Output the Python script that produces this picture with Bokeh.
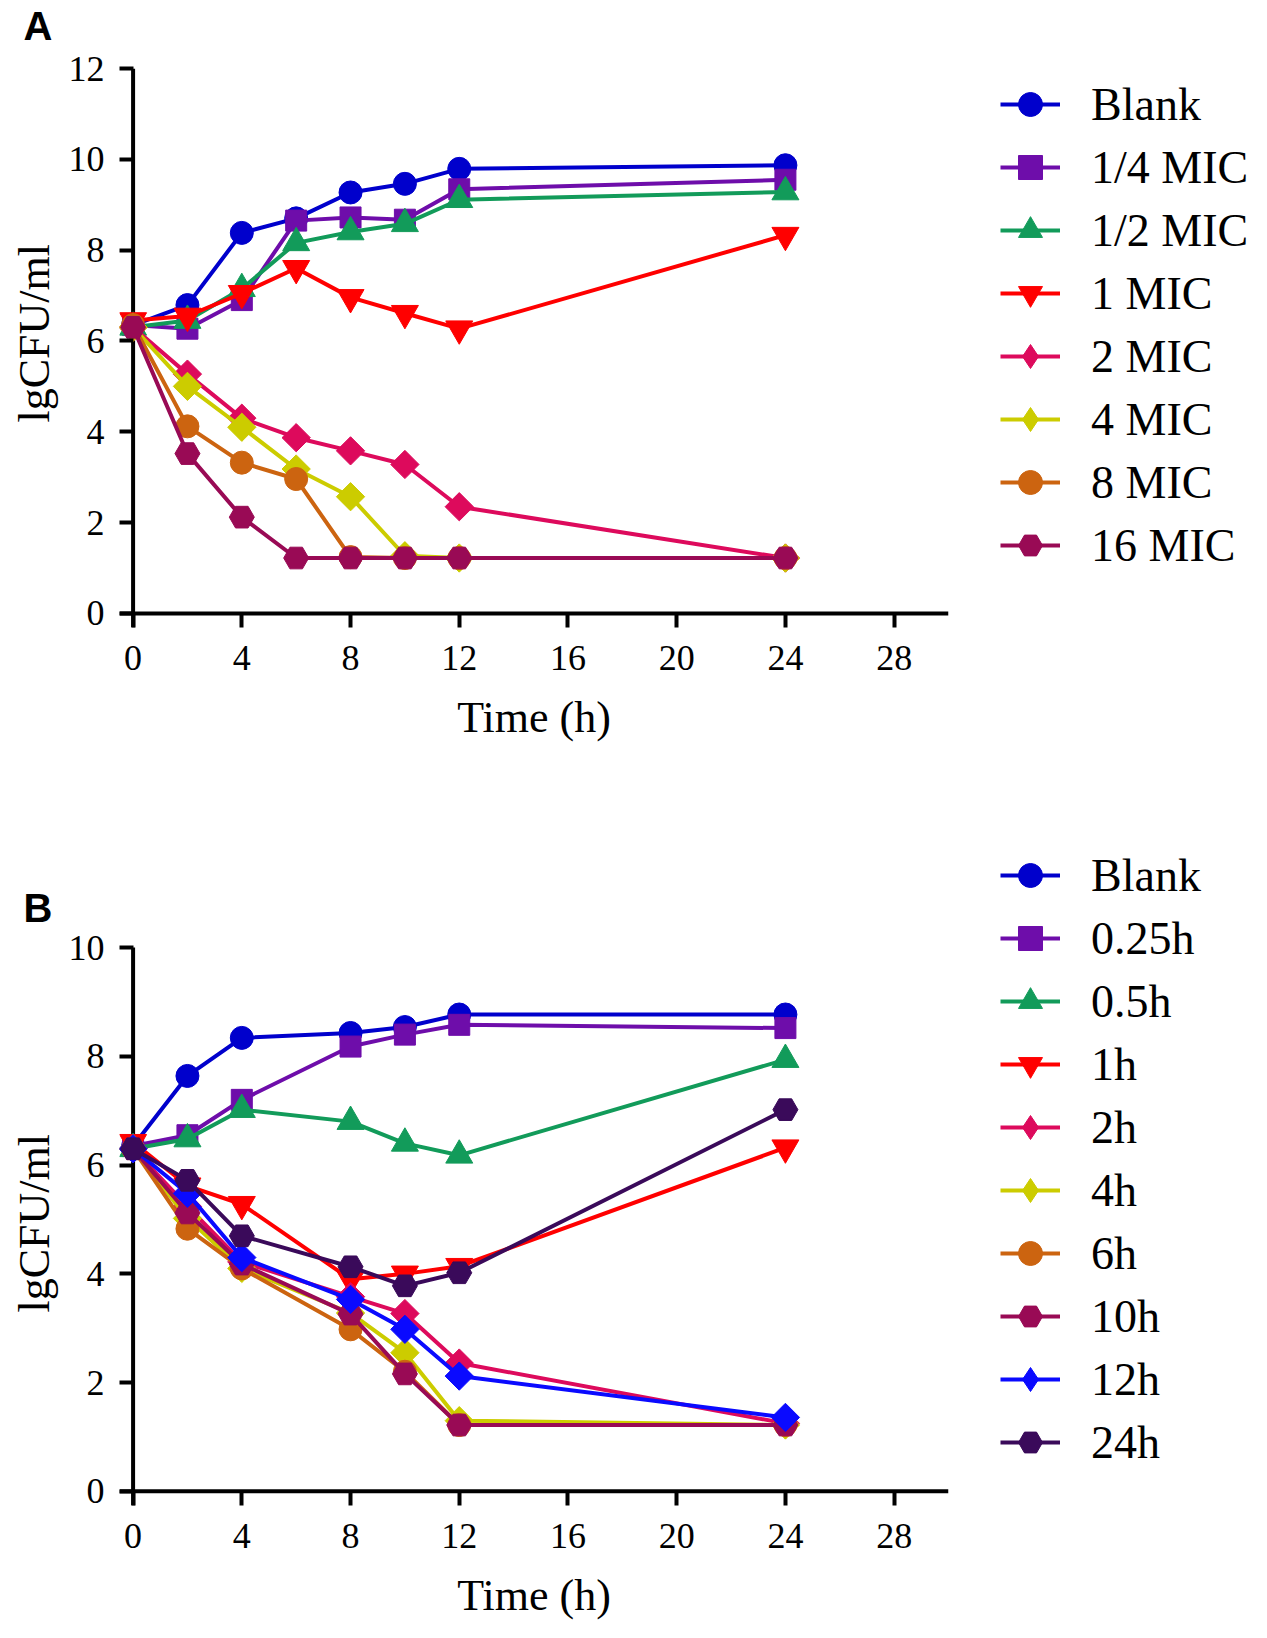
import math
from bokeh.plotting import figure
from bokeh.models import Legend, LegendItem, FixedTicker, Range1d, Label, Title
from bokeh.layouts import column, row
from bokeh.embed import file_html
from bokeh.resources import INLINE

# ---------------- data: panel A ----------------
time_a = [0, 2, 4, 6, 8, 10, 12, 24]
labels_a = ["Blank", "1/4 MIC", "1/2 MIC", "1 MIC", "2 MIC", "4 MIC", "8 MIC", "16 MIC"]
a_blank = [6.35, 6.79, 8.38, 8.70, 9.27, 9.46, 9.79, 9.87]
a_mic_quarter = [6.35, 6.27, 6.90, 8.65, 8.72, 8.67, 9.34, 9.55]
a_mic_half = [6.30, 6.45, 7.15, 8.16, 8.40, 8.58, 9.11, 9.28]
a_mic_1 = [6.45, 6.55, 7.05, 7.60, 6.96, 6.61, 6.27, 8.33]
a_mic_2 = [6.30, 5.27, 4.30, 3.87, 3.58, 3.28, 2.35, 1.22]
a_mic_4 = [6.30, 5.00, 4.10, 3.18, 2.57, 1.27, 1.22, 1.22]
a_mic_8 = [6.35, 4.12, 3.32, 2.96, 1.24, 1.22, 1.22, 1.22]
a_mic_16 = [6.30, 3.52, 2.12, 1.22, 1.22, 1.22, 1.22, 1.22]

# ---------------- data: panel B ----------------
time_b = [0, 2, 4, 8, 10, 12, 24]
labels_b = ["Blank", "0.25h", "0.5h", "1h", "2h", "4h", "6h", "10h", "12h", "24h"]
b_blank = [6.35, 7.64, 8.34, 8.43, 8.54, 8.77, 8.77]
b_h025 = [6.35, 6.55, 7.20, 8.18, 8.40, 8.58, 8.52]
b_h05 = [6.30, 6.48, 7.02, 6.80, 6.40, 6.18, 7.94]
b_h1 = [6.42, 5.62, 5.28, 3.90, 4.00, 4.14, 6.32]
b_h2 = [6.30, 5.24, 4.22, 3.58, 3.27, 2.36, 1.25]
b_h4 = [6.30, 5.02, 4.10, 3.28, 2.55, 1.30, 1.22]
b_h6 = [6.30, 4.83, 4.10, 2.98, 2.20, 1.22, 1.22]
b_h10 = [6.30, 5.12, 4.18, 3.26, 2.16, 1.22, 1.22]
b_h12 = [6.30, 5.48, 4.30, 3.53, 2.98, 2.12, 1.36]
b_h24 = [6.30, 5.72, 4.70, 4.13, 3.78, 4.02, 7.02]

# ---------------- styles ----------------
C_BLUE = "#0000CC"
C_PURPLE = "#6E0DAA"
C_GREEN = "#129B5A"
C_RED = "#FF0000"
C_PINK = "#DD0A5C"
C_YELLOW = "#CCCC00"
C_ORANGE = "#CC6410"
C_MAROON = "#990A55"
C_BRIGHTBLUE = "#0A0AFF"
C_DARKPURPLE = "#3A0A5A"

# (marker in plot, size, angle, marker in legend key)
STY_CIRCLE = ("circle", 23, 0.0, "circle")
STY_SQUARE = ("square", 21, 0.0, "square")
STY_TRI = ("triangle", 27, 0.0, "triangle")
STY_ITRI = ("inverted_triangle", 27, 0.0, "inverted_triangle")
STY_DIAM = ("square", 20, math.pi / 4, "diamond")
STY_HEX = ("hex", 25, 0.0, "hex")

series_a = [
    (labels_a[0], a_blank, C_BLUE, STY_CIRCLE),
    (labels_a[1], a_mic_quarter, C_PURPLE, STY_SQUARE),
    (labels_a[2], a_mic_half, C_GREEN, STY_TRI),
    (labels_a[3], a_mic_1, C_RED, STY_ITRI),
    (labels_a[4], a_mic_2, C_PINK, STY_DIAM),
    (labels_a[5], a_mic_4, C_YELLOW, STY_DIAM),
    (labels_a[6], a_mic_8, C_ORANGE, STY_CIRCLE),
    (labels_a[7], a_mic_16, C_MAROON, STY_HEX),
]
series_b = [
    (labels_b[0], b_blank, C_BLUE, STY_CIRCLE),
    (labels_b[1], b_h025, C_PURPLE, STY_SQUARE),
    (labels_b[2], b_h05, C_GREEN, STY_TRI),
    (labels_b[3], b_h1, C_RED, STY_ITRI),
    (labels_b[4], b_h2, C_PINK, STY_DIAM),
    (labels_b[5], b_h4, C_YELLOW, STY_DIAM),
    (labels_b[6], b_h6, C_ORANGE, STY_CIRCLE),
    (labels_b[7], b_h10, C_MAROON, STY_HEX),
    (labels_b[8], b_h12, C_BRIGHTBLUE, STY_DIAM),
    (labels_b[9], b_h24, C_DARKPURPLE, STY_HEX),
]

SERIF = "Liberation Serif"
MAIN_W = 952
LEG_W = 298
LEFT = 118
RIGHT = 4
X_START, X_END = -0.5, 30
X_TICKS = list(range(0, 29, 4))


def make_main(times, series, y_axis_end, y_start, y_view_end, height, top, bottom,
              letter, letter_y, ylabel_offset):
    p = figure(width=MAIN_W, height=height, output_backend="svg", toolbar_location=None,
               title=None,
               x_range=Range1d(X_START, X_END), y_range=Range1d(y_start, y_view_end),
               min_border=0, min_border_left=LEFT, min_border_right=RIGHT,
               min_border_top=top, min_border_bottom=bottom)
    p.grid.visible = False
    p.outline_line_color = None
    p.background_fill_color = "white"
    p.border_fill_color = "white"

    # panel letter (relative to the top edge of the frame)
    p.add_layout(Label(x=-96, y=letter_y, x_units="screen", y_units="screen",
                       text=letter, text_align="left", text_baseline="top",
                       text_font="Liberation Sans", text_font_style="bold",
                       text_font_size="40px", text_color="black"), "above")

    # axis lines through zero
    p.segment(x0=[X_START], y0=[0], x1=[X_END], y1=[0], line_color="black", line_width=4)
    p.segment(x0=[0], y0=[y_start], x1=[0], y1=[y_axis_end], line_color="black", line_width=4)

    p.xaxis.ticker = FixedTicker(ticks=X_TICKS)
    p.yaxis.ticker = FixedTicker(ticks=list(range(0, y_axis_end + 1, 2)))
    for ax in (p.xaxis, p.yaxis):
        ax.axis_line_alpha = 0
        ax.major_tick_line_width = 4
        ax.major_tick_line_color = "black"
        ax.major_tick_out = 0
        ax.major_tick_in = 14
        ax.minor_tick_out = 0
        ax.minor_tick_in = 0
        ax.major_label_text_font = SERIF
        ax.major_label_text_font_size = "36px"
        ax.major_label_text_color = "black"
        ax.axis_label_text_font = SERIF
        ax.axis_label_text_font_size = "44px"
        ax.axis_label_text_font_style = "normal"
        ax.axis_label_text_color = "black"
    p.xaxis.major_label_standoff = 18
    p.xaxis.axis_label = "Time (h)"
    p.xaxis.axis_label_standoff = 20
    p.yaxis.major_label_standoff = 15

    p.add_layout(Title(text="lgCFU/ml", align="left", offset=ylabel_offset, standoff=14,
                       vertical_align="bottom", text_font=SERIF, text_font_size="44px",
                       text_font_style="normal", text_color="black"), "left")

    for name, vals, color, sty in series:
        p.line(times, vals, line_color=color, line_width=4)
        p.scatter(times, vals, marker=sty[0], size=sty[1], angle=sty[2],
                  fill_color=color, line_color=color, line_width=1)
    return p


def make_legend(series, height, legend_xy):
    lp = figure(width=LEG_W, height=height, output_backend="svg", toolbar_location=None,
                x_axis_type=None, y_axis_type=None, title=None,
                x_range=Range1d(0, 1), y_range=Range1d(0, 1), min_border=0)
    lp.grid.visible = False
    lp.outline_line_color = None
    lp.background_fill_color = "white"
    lp.border_fill_color = "white"
    items = []
    for name, vals, color, sty in series:
        # legend keys only: positioned off-range (NaN), they are not drawn in the plot area
        lr = lp.line(x=[float("nan")], y=[float("nan")], line_color=color, line_width=4)
        sr = lp.scatter(x=[float("nan")], y=[float("nan")], marker=sty[3],
                        fill_color=color, line_color=color, line_width=1)
        items.append(LegendItem(label=name, renderers=[lr, sr]))
    leg = Legend(items=items, location=legend_xy,
                 glyph_width=60, glyph_height=62, label_height=62, spacing=1,
                 label_standoff=31, padding=0, margin=0,
                 label_text_font=SERIF, label_text_font_size="46px",
                 label_text_color="black",
                 border_line_alpha=0, background_fill_alpha=0)
    lp.add_layout(leg)
    return lp


HA, HB = 780, 842
# Panel A: frame page 68..627
pa = make_main(time_a, series_a, 12, -0.31, 12, HA, 68, HA - 627, "A", 65, 205)
la = make_legend(series_a, HA, (48, 51))
# Panel B: frame page 834..1510 (taller than the axis so that the legend fits); y=10 at page 948
B_VIEW_END = 10 + (948 - 834) / 54.8
pb = make_main(time_b, series_b, 10, -0.26, B_VIEW_END, HB, 834 - HA, HB - (1510 - HA),
               "B", -51, 193)
lb = make_legend(series_b, HB, (48, 32))

layout = column(row(pa, la, spacing=0), row(pb, lb, spacing=0), spacing=0)
open("out.html", "w").write(file_html(layout, INLINE))
